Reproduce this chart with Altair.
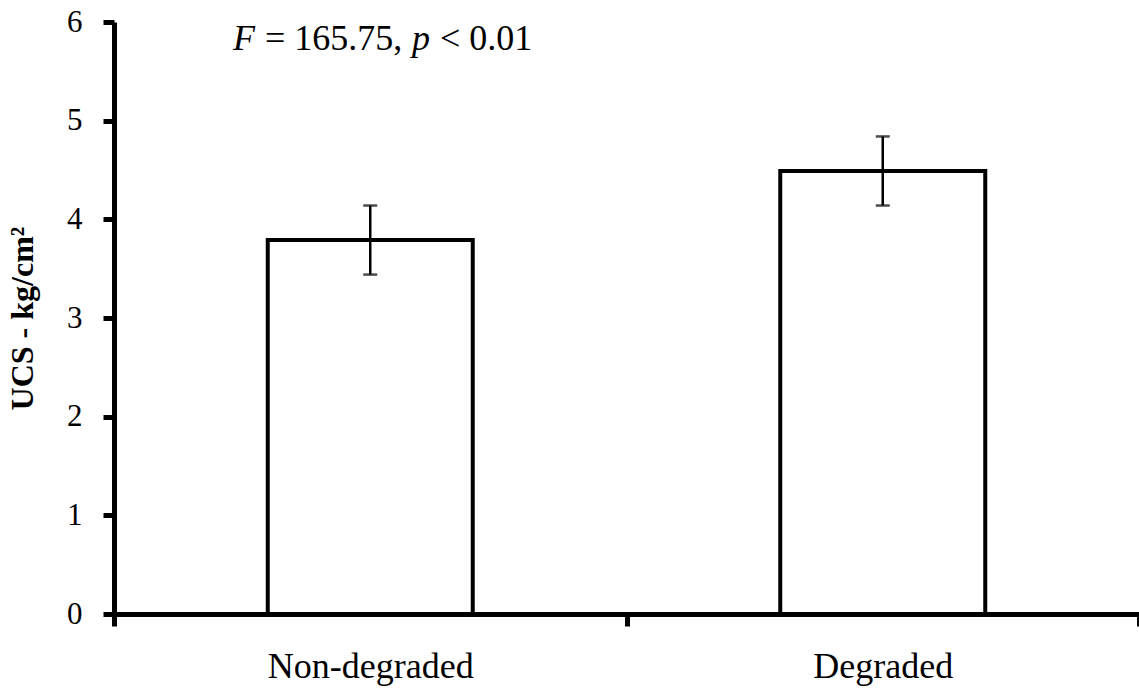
import altair as alt
import pandas as pd

# Unconfined compressive strength by soil condition
groups = ["Non-degraded", "Degraded"]
ucs_mean = [3.79, 4.49]
ucs_err = [0.35, 0.35]

# ANOVA annotation, split so F and p can be set in italics
stat_f = "F"
stat_f_value = "= 165.75,"
stat_p = "p"
stat_p_value = "< 0.01"

df = pd.DataFrame({"group": groups, "mean": ucs_mean, "err": ucs_err})
df["lo"] = df["mean"] - df["err"]
df["hi"] = df["mean"] + df["err"]

FONT = "Liberation Serif"
y_scale = alt.Scale(domain=[0, 6], nice=False)

x_enc = alt.X(
    "group:N",
    sort=groups,
    scale=alt.Scale(paddingInner=0, paddingOuter=0),
    axis=alt.Axis(
        title=None, labelAngle=0, tickBand="extent",
        labelFont=FONT, labelFontSize=36, labelColor="black", labelLimit=0,
        labelPadding=23, labelBaseline="top",
        tickSize=12, tickWidth=5, tickColor="black",
        domainWidth=5, domainColor="black", grid=False, zindex=1,
    ),
)

y_enc = alt.Y(
    "mean:Q",
    scale=y_scale,
    axis=alt.Axis(
        title="UCS - kg/cm²", titleFont=FONT, titleFontSize=32,
        titleFontWeight="bold", titleColor="black", titlePadding=27,
        values=[0, 1, 2, 3, 4, 5, 6], format="d",
        labelFont=FONT, labelFontSize=31, labelColor="black", labelPadding=21,
        tickSize=11, tickWidth=5, tickColor="black",
        domainWidth=5, domainColor="black", grid=False, zindex=1,
    ),
)

bars = alt.Chart(df).mark_bar(
    width=alt.RelativeBandSize(0.4), fill="white", stroke="black", strokeWidth=4
).encode(x=x_enc, y=y_enc)

whisker = alt.Chart(df).mark_rule(color="black", strokeWidth=2.5).encode(
    x=alt.X("group:N", sort=groups),
    y=alt.Y("lo:Q", scale=y_scale),
    y2="hi:Q",
)

cap_lo = alt.Chart(df).mark_tick(color="black", thickness=2.5, size=14).encode(
    x=alt.X("group:N", sort=groups),
    y=alt.Y("lo:Q", scale=y_scale),
)
cap_hi = alt.Chart(df).mark_tick(color="black", thickness=2.5, size=14).encode(
    x=alt.X("group:N", sort=groups),
    y=alt.Y("hi:Q", scale=y_scale),
)

one = pd.DataFrame({"k": [0]})


def note(text, x, style):
    return alt.Chart(one).mark_text(
        text=text, font=FONT, fontSize=36, fontStyle=style, color="black",
        align="left", baseline="alphabetic",
    ).encode(x=alt.value(x), y=alt.value(28))


annotation = (
    note(stat_f, 119, "italic")
    + note(stat_f_value, 151, "normal")
    + note(stat_p, 298, "italic")
    + note(stat_p_value, 326, "normal")
)

chart = (
    alt.layer(bars, whisker, cap_lo, cap_hi, annotation)
    .properties(
        width=1025, height=592,
        autosize=alt.AutoSizeParams(type="none"),
        padding={"left": 114, "top": 22, "right": 0, "bottom": 77},
        background="white",
    )
    .configure_view(stroke=None)
)

chart.save("out.html", embed_options={"renderer": "svg", "actions": False})
